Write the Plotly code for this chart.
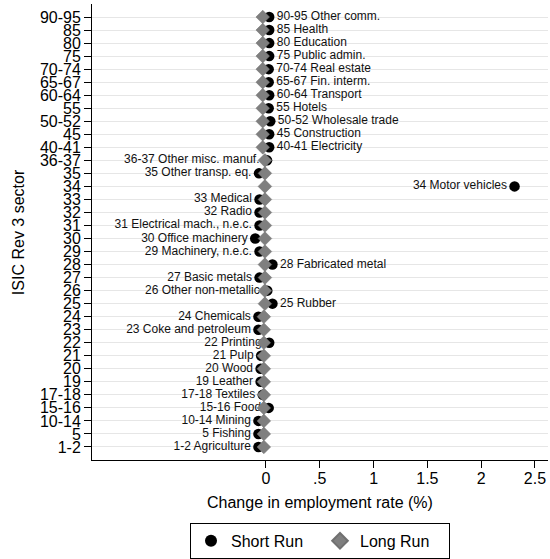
import plotly.graph_objects as go

# ISIC Rev 3 sectors, bottom to top
codes = ["1-2", "5", "10-14", "15-16", "17-18", "19", "20", "21", "22", "23", "24",
         "25", "26", "27", "28", "29", "30", "31", "32", "33", "34", "35", "36-37",
         "40-41", "45", "50-52", "55", "60-64", "65-67", "70-74", "75", "80", "85", "90-95"]
names = ["Agriculture", "Fishing", "Mining", "Food", "Textiles", "Leather", "Wood", "Pulp",
         "Printing", "Coke and petroleum", "Chemicals",
         "Rubber", "Other non-metallic", "Basic metals", "Fabricated metal", "Machinery, n.e.c.",
         "Office machinery", "Electrical mach., n.e.c.", "Radio", "Medical", "Motor vehicles",
         "Other transp. eq.", "Other misc. manuf.",
         "Electricity", "Construction", "Wholesale trade", "Hotels", "Transport", "Fin. interm.",
         "Real estate", "Public admin.", "Education", "Health", "Other comm."]
short_run = [-0.07, -0.07, -0.07, 0.025, -0.03, -0.05, -0.05, -0.045, 0.03, -0.07, -0.07,
             0.06, 0.012, -0.06, 0.06, -0.06, -0.10, -0.06, -0.06, -0.06, 2.31, -0.065, 0.01,
             0.03, 0.03, 0.04, 0.025, 0.03, 0.025, 0.025, 0.03, 0.03, 0.03, 0.03]
long_run = [-0.02, -0.02, -0.02, -0.02, -0.02, -0.02, -0.02, -0.02, -0.02, -0.02, -0.02,
            -0.01, -0.01, -0.01, -0.01, -0.01, -0.01, -0.01, -0.01, -0.01, -0.01, -0.01, -0.01,
            -0.03, -0.03, -0.03, -0.03, -0.03, -0.03, -0.03, -0.03, -0.03, -0.03, -0.03]
x_ticks = [0, 0.5, 1, 1.5, 2, 2.5]
x_tick_labels = ["0", ".5", "1", "1.5", "2", "2.5"]

right_labels = {"25", "28", "40-41", "45", "50-52", "55", "60-64", "65-67", "70-74",
                "75", "80", "85", "90-95"}

ypos = list(range(len(codes)))
labels = [f"{c} {n}" for c, n in zip(codes, names)]
positions = ["middle right" if c in right_labels else "middle left" for c in codes]

FONT = "Liberation Sans, Arial, Helvetica, sans-serif"

fig = go.Figure()
fig.add_trace(go.Scatter(
    x=short_run, y=ypos, mode="markers+text", name="Short Run",
    marker=dict(symbol="circle", size=10.5, color="black"),
    text=labels, textposition=positions,
    textfont=dict(family=FONT, size=12, color="#111111"),
))
fig.add_trace(go.Scatter(
    x=long_run, y=ypos, mode="markers", name="Long Run",
    marker=dict(symbol="diamond", size=10.5, color="#7f7f7f",
                line=dict(color="#707070", width=0.5)),
))

fig.update_layout(
    width=550, height=559,
    margin=dict(l=92, r=2, t=4, b=99, autoexpand=False),
    paper_bgcolor="white", plot_bgcolor="white",
    font=dict(family=FONT, size=16, color="black"),
    showlegend=True,
    legend=dict(orientation="h", x=0.5, xanchor="center", y=-0.138, yanchor="top",
                bordercolor="black", borderwidth=1, bgcolor="white",
                font=dict(family=FONT, size=16), itemsizing="constant",
                entrywidth=84, entrywidthmode="pixels"),
    annotations=[
        dict(text="Change in employment rate (%)", xref="paper", yref="paper",
             x=0.5, y=-0.094, xanchor="center", yanchor="middle", showarrow=False,
             font=dict(family=FONT, size=16)),
        dict(text="ISIC Rev 3 sector", xref="paper", yref="paper",
             x=-0.162, y=0.5, xanchor="center", yanchor="middle", showarrow=False,
             textangle=-90, font=dict(family=FONT, size=16)),
    ],
)
fig.update_xaxes(
    range=[-1.617, 2.621], tickvals=x_ticks, ticktext=x_tick_labels,
    showgrid=False, zeroline=False, showline=True, linecolor="black", linewidth=1,
    ticks="outside", ticklen=7, tickcolor="black", automargin=False,
    ticklabelstandoff=-3,
    tickfont=dict(family=FONT, size=16),
)
fig.update_yaxes(
    range=[-1.0, 34.0], tickvals=ypos, ticktext=codes,
    showgrid=True, gridcolor="#e6e6e6", gridwidth=1, zeroline=False,
    showline=True, linecolor="black", linewidth=1,
    ticks="outside", ticklen=7, tickcolor="black", automargin=False,
    tickfont=dict(family=FONT, size=16),
)

fig.write_html("out.html", config={"displayModeBar": False},
               post_script="document.body.style.margin='0px';")
